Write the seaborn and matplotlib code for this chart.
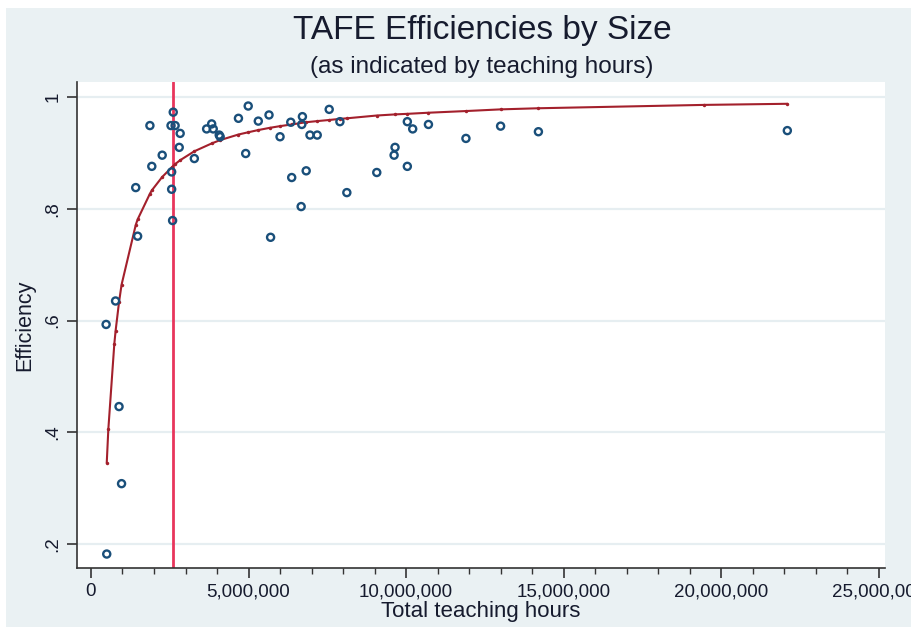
import matplotlib
matplotlib.use("Agg")
import matplotlib.pyplot as plt
import matplotlib.ticker as mticker
from matplotlib.patches import Rectangle
import numpy as np
import pandas as pd
import seaborn as sns

# ----------------------------------------------------------------------
# Data (hours in millions)
# ----------------------------------------------------------------------
hours_m = [0.50, 0.48, 0.78, 0.89, 0.97, 1.42, 1.48, 1.87, 1.93, 2.26,
           2.54, 2.56, 2.56, 2.59, 2.61, 2.67, 2.80, 2.83, 3.28, 3.67,
           3.83, 3.88, 4.07, 4.10, 4.68, 4.91, 4.99, 5.31, 5.65, 5.70,
           6.00, 6.34, 6.37, 6.67, 6.69, 6.71, 6.83, 6.95, 7.18, 7.56,
           7.90, 8.12, 9.07, 9.62, 9.65, 10.04, 10.04, 10.21, 10.71, 11.90,
           13.00, 14.20, 22.10]
efficiency = [0.182, 0.593, 0.635, 0.446, 0.308, 0.838, 0.751, 0.949, 0.876, 0.896,
              0.949, 0.866, 0.835, 0.779, 0.973, 0.949, 0.910, 0.935, 0.890, 0.943,
              0.952, 0.943, 0.932, 0.929, 0.962, 0.899, 0.984, 0.957, 0.968, 0.749,
              0.929, 0.955, 0.856, 0.804, 0.951, 0.965, 0.868, 0.932, 0.932, 0.978,
              0.956, 0.829, 0.865, 0.896, 0.910, 0.956, 0.876, 0.943, 0.951, 0.926,
              0.948, 0.938, 0.940]

# fitted curve (dots along the dark red line)
fit_hours_m = [0.50, 0.55, 0.74, 0.78, 0.89, 0.97, 1.42, 1.48, 1.87, 1.93,
               2.26, 2.56, 2.67, 2.83, 3.28, 3.83, 4.10, 4.68, 4.99, 5.31,
               5.68, 6.00, 6.37, 6.83, 7.18, 7.56, 7.90, 8.12, 9.07, 9.65,
               10.04, 10.71, 11.90, 13.00, 14.20, 19.45, 22.10]
fit_eff = [0.345, 0.405, 0.558, 0.581, 0.633, 0.664, 0.771, 0.781, 0.827, 0.833,
           0.857, 0.874, 0.880, 0.887, 0.903, 0.917, 0.923, 0.933, 0.937, 0.941,
           0.945, 0.948, 0.951, 0.955, 0.957, 0.959, 0.961, 0.962, 0.967, 0.969,
           0.970, 0.972, 0.975, 0.978, 0.980, 0.986, 0.988]

cutoff_m = 2.6

x_ticks = [0, 5e6, 10e6, 15e6, 20e6, 25e6]
y_ticks = [0.2, 0.4, 0.6, 0.8, 1.0]
y_tick_labels = [".2", ".4", ".6", ".8", "1"]

# ----------------------------------------------------------------------
# Style
# ----------------------------------------------------------------------
BG = "#eaf1f3"
GRID = "#e6eef1"
NAVY = "#1a4f7a"
MAROON = "#a3202c"
PINK = "#e8355c"
TXT = "#161b2e"

sns.set_theme(style="white")
plt.rcParams["font.family"] = ["Liberation Sans", "DejaVu Sans"]

df = pd.DataFrame({"hours": np.array(hours_m) * 1e6, "eff": efficiency})
fit = pd.DataFrame({"hours": np.array(fit_hours_m) * 1e6, "eff": fit_eff})

W, H = 912, 627
fig = plt.figure(figsize=(W / 100, H / 100), dpi=100, facecolor="white")
fig.patches.append(Rectangle((6 / W, 0), 1, 1 - 8 / H, transform=fig.transFigure,
                             facecolor=BG, edgecolor="none", zorder=-10))

ax = fig.add_axes([77 / W, (H - 568) / H, (885 - 77) / W, (568 - 82) / H])
ax.set_facecolor("white")

for y in y_ticks:
    ax.axhline(y, color=GRID, lw=1.6, zorder=0)

ax.axvline(cutoff_m * 1e6, color=PINK, lw=2.0, zorder=2)

sns.lineplot(data=fit, x="hours", y="eff", ax=ax, sort=False, color=MAROON,
             lw=1.5, marker="o", markersize=2.5, markeredgewidth=0, zorder=3)

sns.scatterplot(data=df, x="hours", y="eff", ax=ax, marker="o", s=26,
                facecolor="none", edgecolor=NAVY, linewidth=1.7, zorder=4)

ax.set_xlim(-0.444e6, 25.2e6)
ax.set_ylim(0.157, 1.027)

ax.set_xticks(x_ticks)
ax.xaxis.set_major_formatter(mticker.FuncFormatter(lambda v, p: f"{v:,.0f}"))
ax.xaxis.set_minor_locator(mticker.MultipleLocator(1e6))
ax.set_yticks(y_ticks)
ax.set_yticklabels(y_tick_labels, rotation=90, va="center")

ax.tick_params(axis="x", which="major", direction="out", length=7, width=1.2,
               color="#333333", labelsize=13.5, labelcolor=TXT, pad=4,
               bottom=True)
ax.tick_params(axis="x", which="minor", direction="out", length=4, width=1.0,
               color="#333333", bottom=True)
ax.tick_params(axis="y", which="major", direction="out", length=7, width=1.2,
               color="#333333", labelsize=13.5, labelcolor=TXT, pad=4, left=True)

for side in ["top", "right"]:
    ax.spines[side].set_visible(False)
for side in ["left", "bottom"]:
    ax.spines[side].set_color("#333333")
    ax.spines[side].set_linewidth(1.2)

ax.set_xlabel("")
ax.set_ylabel("")
fig.text(481 / W, 1 - 612 / H, "Total teaching hours", ha="center", va="center",
         fontsize=16, color=TXT)
fig.text(25 / W, 1 - 325 / H, "Efficiency", ha="center", va="center",
         rotation=90, fontsize=15.5, color=TXT)

fig.text(482 / W, 1 - 30 / H, "TAFE Efficiencies by Size", ha="center",
         va="center", fontsize=24, color=TXT)
fig.text(482 / W, 1 - 67 / H, "(as indicated by teaching hours)", ha="center",
         va="center", fontsize=17.5, color=TXT)

fig.savefig("out.png", dpi=100, facecolor=fig.get_facecolor())
